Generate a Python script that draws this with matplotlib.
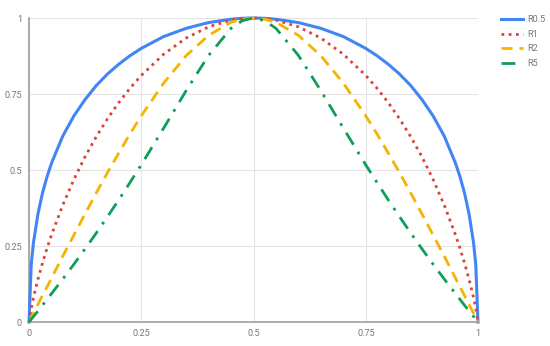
import matplotlib
matplotlib.use("Agg")
import matplotlib.pyplot as plt

p = [0, 0.005, 0.01, 0.02, 0.03, 0.04, 0.05, 0.075, 0.1, 0.125, 0.15, 0.175, 0.2, 0.225, 0.25, 0.3, 0.35, 0.4, 0.45, 0.475, 0.5,
     0.525, 0.55, 0.6, 0.65, 0.7, 0.75, 0.775, 0.8, 0.825, 0.85, 0.875, 0.9, 0.925, 0.95, 0.96, 0.97, 0.98, 0.99, 0.995, 1]

r05 = [0, 0.190, 0.262, 0.356, 0.424, 0.477, 0.522, 0.611, 0.678, 0.732, 0.778, 0.816, 0.848, 0.876, 0.900, 0.939, 0.966, 0.985, 0.996, 0.999, 1.0,
       0.999, 0.996, 0.985, 0.966, 0.939, 0.900, 0.876, 0.848, 0.816, 0.778, 0.732, 0.678, 0.611, 0.522, 0.477, 0.424, 0.356, 0.262, 0.190, 0]
r1 = [0, 0.045, 0.081, 0.141, 0.194, 0.242, 0.286, 0.384, 0.469, 0.544, 0.610, 0.669, 0.722, 0.769, 0.811, 0.881, 0.934, 0.971, 0.993, 0.998, 1.0,
      0.998, 0.993, 0.971, 0.934, 0.881, 0.811, 0.769, 0.722, 0.669, 0.610, 0.544, 0.469, 0.384, 0.286, 0.242, 0.194, 0.141, 0.081, 0.045, 0]
r2 = [0, 0.014, 0.029, 0.058, 0.087, 0.115, 0.144, 0.216, 0.286, 0.356, 0.425, 0.492, 0.556, 0.619, 0.678, 0.786, 0.876, 0.943, 0.986, 0.996, 1.0,
      0.996, 0.986, 0.943, 0.876, 0.786, 0.678, 0.619, 0.556, 0.492, 0.425, 0.356, 0.286, 0.216, 0.144, 0.115, 0.087, 0.058, 0.029, 0.014, 0]
r5 = [0, 0.009, 0.018, 0.036, 0.055, 0.074, 0.093, 0.141, 0.190, 0.241, 0.293, 0.347, 0.402, 0.459, 0.517, 0.638, 0.761, 0.877, 0.966, 0.991, 1.0,
      0.991, 0.966, 0.877, 0.761, 0.638, 0.517, 0.459, 0.402, 0.347, 0.293, 0.241, 0.190, 0.141, 0.093, 0.074, 0.055, 0.036, 0.018, 0.009, 0]

labels = ["R0.5", "R1", "R2", "R5"]
xticks = [0, 0.25, 0.5, 0.75, 1]
xticklabels = ["0", "0.25", "0.5", "0.75", "1"]
yticks = [0, 0.25, 0.5, 0.75, 1]
yticklabels = ["0", "0.25", "0.5", "0.75", "1"]

plt.rcParams['font.family'] = ['Roboto', 'DejaVu Sans']

fig = plt.figure(figsize=(5.5, 3.46), dpi=100)
ax = fig.add_axes([29/550, 24/346, 449/550, 304/346])

ax.plot(p, r05, color="#4285F4", lw=2.2, label=labels[0], clip_on=False, zorder=3)
ax.plot(p, r1, color="#DB4437", lw=2.0, ls=(0, (1, 1.6)), label=labels[1], clip_on=False, zorder=4)
ax.plot(p, r2, color="#F4B400", lw=2.0, ls=(0, (4, 2.5)), label=labels[2], clip_on=False, zorder=5)
ax.plot(p, r5, color="#0F9D58", lw=2.0, ls=(0, (5, 3, 1, 3)), label=labels[3], clip_on=False, zorder=6)

ax.set_xlim(0, 1)
ax.set_ylim(0, 1)
ax.set_xticks(xticks)
ax.set_xticklabels(xticklabels)
ax.set_yticks(yticks)
ax.set_yticklabels(yticklabels)
ax.tick_params(length=0, labelsize=6.5, colors="#757575", pad=5)
ax.grid(True, color="#e4e4e4", lw=0.8)
ax.set_axisbelow(True)
for s in ["top", "right"]:
    ax.spines[s].set_visible(False)
for s in ["left", "bottom"]:
    ax.spines[s].set_color("#9e9e9e")
    ax.spines[s].set_linewidth(1.2)

leg = fig.legend(loc="upper left", bbox_to_anchor=(493/550, 1 - 7/346), frameon=False,
                 fontsize=6.5, handlelength=2.4, labelspacing=0.62, handletextpad=0.45)
for t in leg.get_texts():
    t.set_color("#757575")

fig.savefig("out.png", dpi=100)
